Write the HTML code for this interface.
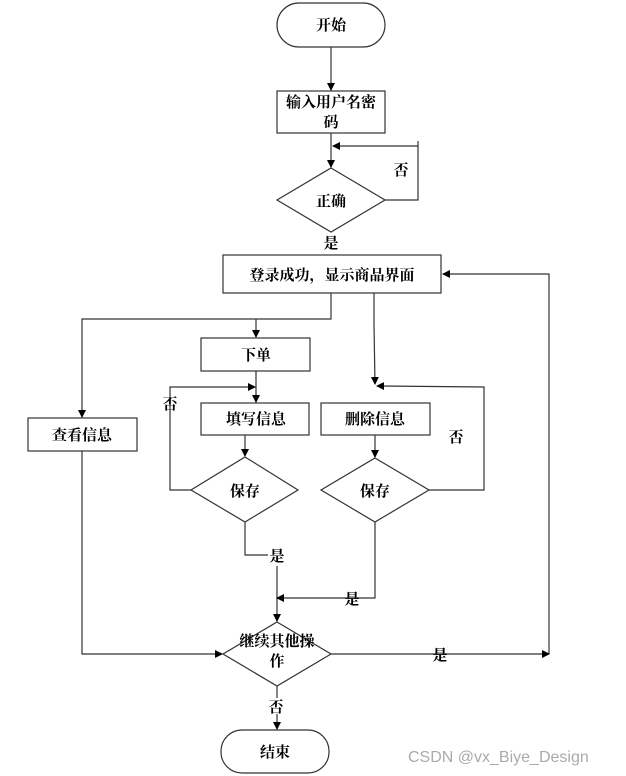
<!DOCTYPE html>
<html><head><meta charset="utf-8"><style>
html,body{margin:0;padding:0;background:#fff;}
svg{display:block;}
text{font-family:"Liberation Serif","Noto Serif CJK SC","Noto Sans CJK SC",serif;font-size:15px;font-weight:bold;fill:#000;}
.w{font-family:"Liberation Sans","DejaVu Sans",sans-serif;font-weight:normal;fill:#aaa;font-size:16px;}
</style></head><body>
<svg width="626" height="776" viewBox="0 0 626 776" xmlns="http://www.w3.org/2000/svg">
<defs><marker id="a" markerWidth="8" markerHeight="8" refX="7" refY="4" orient="auto" markerUnits="userSpaceOnUse"><path d="M0,0 L8,4 L0,8 z" fill="#000"/></marker></defs>
<g fill="none" stroke="#333" stroke-width="1.2">
<rect x="277" y="3" width="108" height="44" rx="22"/>
<rect x="277" y="91" width="108" height="42"/>
<polygon points="331,168 385,200 331,232 277,200"/>
<rect x="223" y="255" width="218" height="38"/>
<rect x="201" y="338" width="109" height="33"/>
<rect x="28" y="418" width="109" height="33"/>
<rect x="201" y="403" width="108" height="32"/>
<rect x="321" y="403" width="109" height="32"/>
<polygon points="245,457 298,490 245,522 191,490"/>
<polygon points="375,458 429,490 375,522 321,490"/>
<polygon points="277,622 331,654 277,686 223,654"/>
<rect x="221" y="730" width="108" height="43" rx="21"/>
</g>
<g fill="none" stroke="#333" stroke-width="1.2" marker-end="url(#a)">
<path d="M331,47 V90"/>
<path d="M331,133 V167"/>
<path d="M385,200 H418 V141 M418,146 H333"/>
<path d="M549,654 V274 H443"/>
<path d="M331,293 V319 H82 V417"/>
<path d="M256,319 V337"/>
<path d="M256,371 V402"/>
<path d="M191,490 H170 V387 H255"/>
<path d="M374,293 V325 L375,384"/>
<path d="M429,490 H484 V387 L377,386"/>
<path d="M245,435 V456"/>
<path d="M375,435 V457"/>
<path d="M245,522 V555 H268 M277,566 V621"/>
<path d="M375,522 V598 H277"/>
<path d="M82,451 V654 H222"/>
<path d="M331,654 H549"/>
<path d="M277,686 V698 M277,714 V729"/>
</g>
<g text-anchor="middle">
<text x="331" y="30">开始</text>
<text x="331" y="107">输入用户名密</text>
<text x="331" y="127">码</text>
<text x="401" y="175">否</text>
<text x="331" y="206">正确</text>
<text x="331" y="248" style="fill:#000">是</text>
<text x="332" y="280">登录成功，显示商品界面</text>
<text x="256" y="360">下单</text>
<text x="170" y="409">否</text>
<text x="82" y="440">查看信息</text>
<text x="256" y="424">填写信息</text>
<text x="375" y="424">删除信息</text>
<text x="456" y="442">否</text>
<text x="245" y="496">保存</text>
<text x="375" y="496">保存</text>
<text x="277" y="561">是</text>
<text x="352" y="604">是</text>
<text x="277" y="646">继续其他操</text>
<text x="277" y="666">作</text>
<text x="440" y="660">是</text>
<text x="276" y="712">否</text>
<text x="275" y="757">结束</text>
</g>
<text class="w" x="408" y="762">CSDN @vx_Biye_Design</text>
</svg>
</body></html>
